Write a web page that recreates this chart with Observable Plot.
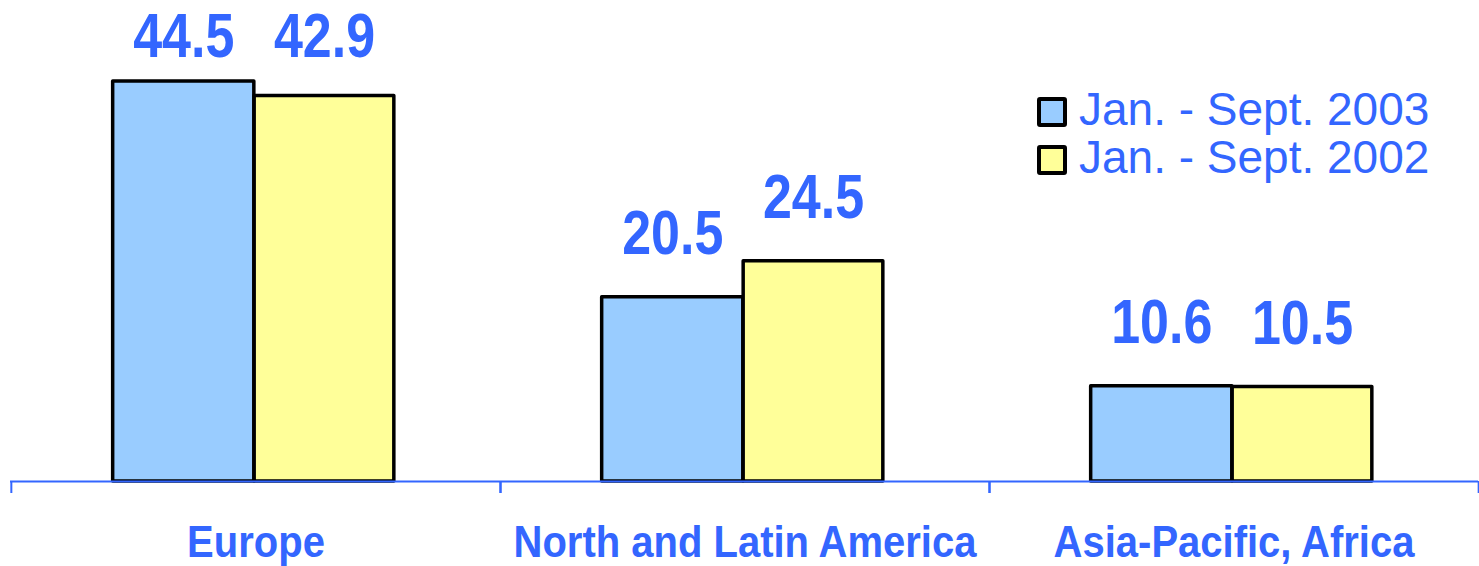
<!DOCTYPE html>
<html>
<head>
<meta charset="utf-8">
<script src="https://cdn.jsdelivr.net/npm/d3@7"></script>
<script src="https://cdn.jsdelivr.net/npm/@observablehq/plot@0.6"></script>
<style>
  body { margin: 0; background: #fff; }
  #chart { position: relative; width: 1479px; height: 566px; font-family: "Liberation Sans", Arial, sans-serif; }
  #legend { position: absolute; left: 1037px; top: 85px; }
  .item { position: relative; height: 48px; line-height: 48px; font-size: 46px; color: #3366FF; padding-left: 42px; white-space: nowrap; }
  .sw { position: absolute; left: 0; top: 12px; width: 30px; height: 30px; box-sizing: border-box; border: 4px solid #000; border-radius: 3px; }
</style>
</head>
<body>
<div id="chart"></div>
<script>
// ---- data ----
const regions = ["Europe", "North and Latin America", "Asia-Pacific, Africa"];
const periods = ["Jan. - Sept. 2003", "Jan. - Sept. 2002"];
const values2003 = [44.5, 20.5, 10.6];
const values2002 = [42.9, 24.5, 10.5];
const periodColors = ["#99CCFF", "#FFFF99"];
const textBlue = "#3366FF";

const rows2003 = regions.map((region, i) => ({region, value: values2003[i]}));
const rows2002 = regions.map((region, i) => ({region, value: values2002[i]}));

const W = 1479, H = 566, mL = 10, mR = 1;
const bw = (W - mL - mR) / regions.length;
const barW0 = 141.5, barW1 = 140;
const off0 = -72.25, off1 = 68.5;

const font = "'Liberation Sans', Arial, Helvetica, sans-serif";

const valueLabel = (rows, off) => Plot.text(rows, {
  x: "region", y: d => Math.min(d.value, 42.4), text: d => d.value.toFixed(1),
  dx: off, dy: -43, lineAnchor: "bottom", textAnchor: "middle",
  fill: textBlue, fontSize: 52, fontWeight: "bold", ariaLabel: "values"
});

const plot = Plot.plot({
  width: W, height: H,
  marginLeft: mL, marginRight: mR, marginTop: 81, marginBottom: 85,
  style: {fontFamily: font, background: "white", overflow: "visible"},
  x: {domain: regions, padding: 0, axis: null},
  y: {domain: [0, 44.5], axis: null},
  marks: [
    Plot.barY(rows2003, {x: "region", y: "value", fill: periodColors[0], stroke: "black", strokeWidth: 3.5, strokeLinejoin: "round",
      dx: off0, insetLeft: (bw - barW0) / 2, insetRight: (bw - barW0) / 2}),
    Plot.barY(rows2002, {x: "region", y: "value", fill: periodColors[1], stroke: "black", strokeWidth: 3.5, strokeLinejoin: "round",
      dx: off1, insetLeft: (bw - barW1) / 2, insetRight: (bw - barW1) / 2}),
    Plot.ruleY([0], {stroke: textBlue, strokeWidth: 2}),
    Plot.ruleX(regions, {x: d => d, y1: 0, y2: 0, insetBottom: -12, dx: -bw / 2, stroke: textBlue, strokeWidth: 2}),
    Plot.ruleX(regions, {x: d => d, y1: 0, y2: 0, insetBottom: -12, dx: bw / 2, stroke: textBlue, strokeWidth: 2}),
    valueLabel(rows2003, off0),
    valueLabel(rows2002, off1),
    Plot.text(regions, {x: d => d, frameAnchor: "bottom", dy: 75, lineAnchor: "bottom", textAnchor: "middle",
      fill: textBlue, fontSize: 40, fontWeight: "bold", ariaLabel: "categories"})
  ]
});

// vertical stretch of the bold labels (the reference's glyphs are taller than wide)
function stretch(svg, label, size, s) {
  const set = new Set(svg.querySelectorAll(`g[aria-label="${label}"] text, g[font-size="${size}"] text`));
  set.forEach(t => {
    const tr = t.getAttribute("transform");
    if (tr) t.setAttribute("transform", tr + ` scale(1,${s})`);
    else {
      const x = +t.getAttribute("x") || 0, y = +t.getAttribute("y") || 0;
      t.removeAttribute("x"); t.removeAttribute("y");
      t.setAttribute("transform", `translate(${x},${y}) scale(1,${s})`);
    }
  });
}
stretch(plot, "values", 52, 1.2);
stretch(plot, "categories", 40, 1.12);

const chart = document.getElementById("chart");
chart.appendChild(plot);

// legend
const legend = document.createElement("div");
legend.id = "legend";
periods.forEach((p, i) => {
  const item = document.createElement("div");
  item.className = "item";
  const sw = document.createElement("span");
  sw.className = "sw";
  sw.style.background = periodColors[i];
  item.appendChild(sw);
  item.appendChild(document.createTextNode(p));
  legend.appendChild(item);
});
chart.appendChild(legend);
</script>
</body>
</html>
